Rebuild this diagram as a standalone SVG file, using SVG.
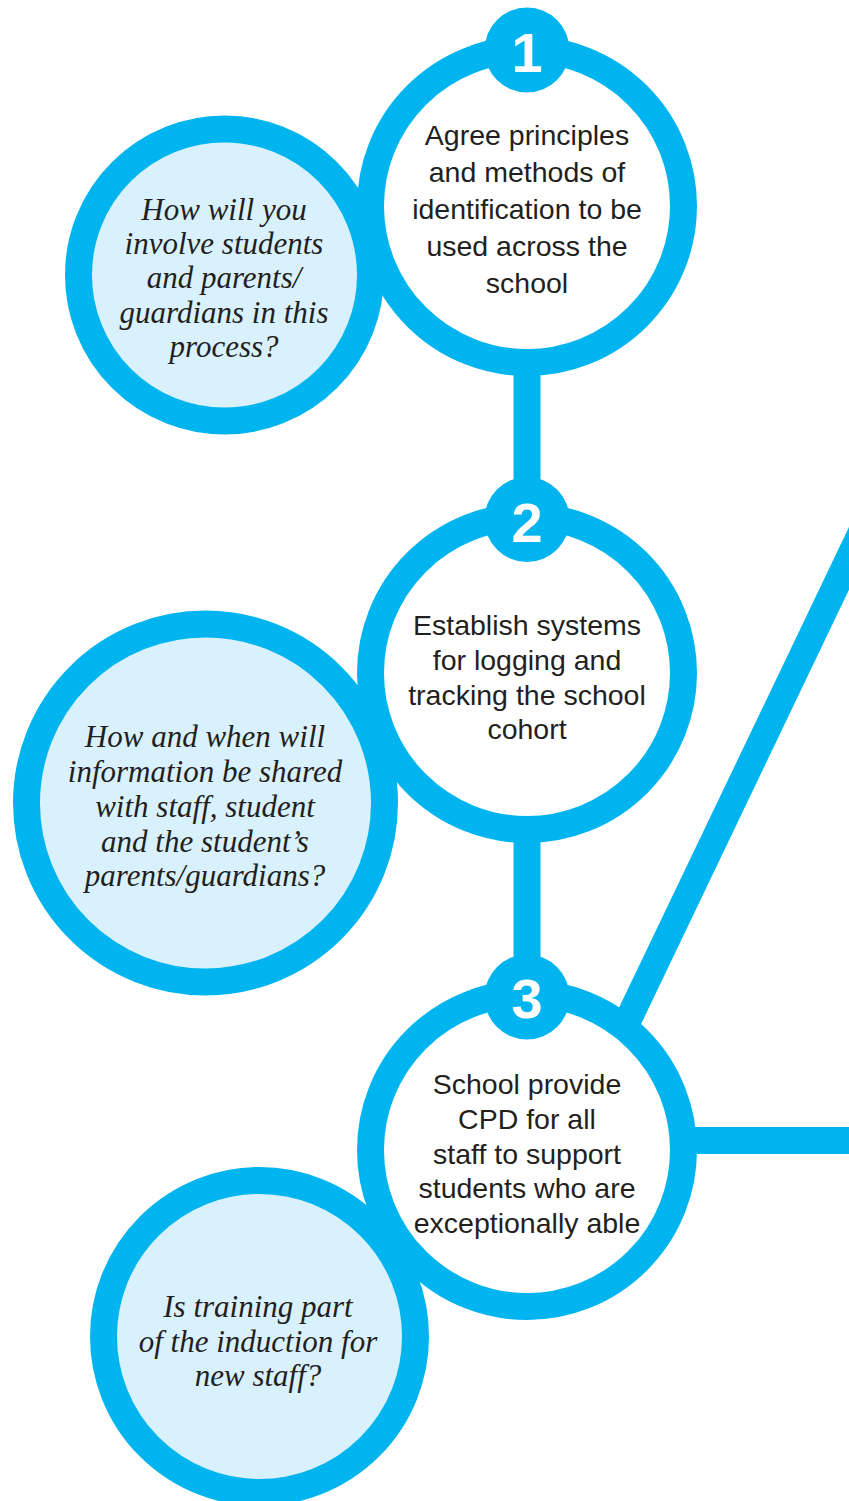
<svg xmlns="http://www.w3.org/2000/svg" width="849" height="1501" viewBox="0 0 849 1501">
<style>
.bar{stroke:#00b5ef;stroke-width:27;fill:none}
.main{fill:#ffffff;stroke:#00b5ef;stroke-width:27}
.q{fill:#d9f1fc;stroke:#00b5ef;stroke-width:27}
.badge{fill:#00b5ef}
.num{font-family:"Liberation Sans",Arial,sans-serif;font-weight:bold;font-size:56px;fill:#ffffff;text-anchor:middle}
.t{font-family:"Liberation Sans",Arial,sans-serif;font-size:28.5px;fill:#231f20;text-anchor:middle}
.h{font-family:"Liberation Serif","Times New Roman",serif;font-style:italic;font-size:31px;fill:#231f20;text-anchor:middle}
</style>
<rect width="849" height="1501" fill="#ffffff"/>
<g id="connectors">
<line class="bar" x1="527" y1="350" x2="527" y2="500"/>
<line class="bar" x1="527" y1="820" x2="527" y2="980"/>
<line class="bar" x1="887" y1="479" x2="607" y2="1064"/>
<line class="bar" x1="650" y1="1140.5" x2="860" y2="1140.5"/>
</g>
<g id="q1">
<circle class="q" cx="224.5" cy="275" r="146"/>
<text class="h" x="224" y="220">How will you</text>
<text class="h" x="224" y="254">involve students</text>
<text class="h" x="224" y="288">and parents/</text>
<text class="h" x="224" y="323">guardians in this</text>
<text class="h" x="224" y="357">process?</text>
</g>
<g id="q2">
<circle class="q" cx="205.5" cy="803" r="179"/>
<text class="h" x="205" y="747">How and when will</text>
<text class="h" x="205" y="782">information be shared</text>
<text class="h" x="205" y="817">with staff, student</text>
<text class="h" x="205" y="852">and the student’s</text>
<text class="h" x="205" y="886">parents/guardians?</text>
</g>
<g id="q3">
<circle class="q" cx="259.5" cy="1336.5" r="156"/>
<text class="h" x="258" y="1317">Is training part</text>
<text class="h" x="258" y="1352">of the induction for</text>
<text class="h" x="258" y="1386">new staff?</text>
</g>
<g id="step1">
<circle class="main" cx="527" cy="206" r="156.5"/>
<circle class="badge" cx="527" cy="50" r="42.5"/>
<text class="num" x="527" y="72">1</text>
<text class="t" x="527" y="145">Agree principles</text>
<text class="t" x="527" y="182">and methods of</text>
<text class="t" x="527" y="219">identification to be</text>
<text class="t" x="527" y="256">used across the</text>
<text class="t" x="527" y="293">school</text>
</g>
<g id="step2">
<circle class="main" cx="527" cy="673" r="156.5"/>
<circle class="badge" cx="527" cy="519.5" r="42.5"/>
<text class="num" x="527" y="542">2</text>
<text class="t" x="527" y="635">Establish systems</text>
<text class="t" x="527" y="670">for logging and</text>
<text class="t" x="527" y="705">tracking the school</text>
<text class="t" x="527" y="739">cohort</text>
</g>
<g id="step3">
<circle class="main" cx="527" cy="1150" r="156.5"/>
<circle class="badge" cx="527" cy="997" r="42.5"/>
<text class="num" x="527" y="1018">3</text>
<text class="t" x="527" y="1094">School provide</text>
<text class="t" x="527" y="1129">CPD for all</text>
<text class="t" x="527" y="1164">staff to support</text>
<text class="t" x="527" y="1198">students who are</text>
<text class="t" x="527" y="1233">exceptionally able</text>
</g>
</svg>
